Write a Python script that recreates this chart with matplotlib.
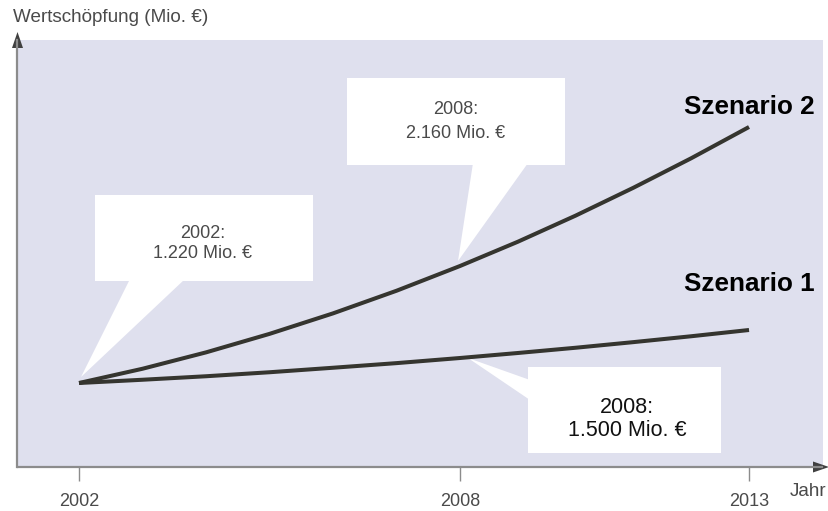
import numpy as np
import matplotlib
matplotlib.use("Agg")
import matplotlib.pyplot as plt
from matplotlib.patches import Polygon
from matplotlib.lines import Line2D

plt.rcParams['font.family'] = ['Liberation Sans', 'DejaVu Sans']

# ---- data (schematic scale in Mio. EUR) ----
years = list(range(2002, 2014))
szenario1 = [1220, 1246, 1274, 1306, 1342, 1379, 1420, 1460, 1502, 1547, 1594, 1644]
szenario2 = [1220, 1334, 1465, 1613, 1777, 1958, 2156, 2350, 2559, 2782, 3018, 3268]
tick_years = [2002, 2008, 2013]
tick_labels = ["2002", "2008", "2013"]
callout_texts = [("2002:", "1.220 Mio. €"), ("2008:", "2.160 Mio. €"), ("2008:", "1.500 Mio. €")]
series_names = ["Szenario 1", "Szenario 2"]

W, H = 829, 511
fig = plt.figure(figsize=(W / 100, H / 100), dpi=100)

def fp(x, y):
    """pixel (top-left origin) -> figure fraction"""
    return (x / W, 1 - y / H)

BG = "#DFE0EE"
LINE = "#35352F"
AX_GRAY = "#8C8C8C"
TXT = "#4A4A4A"

ax = fig.add_axes([18 / W, 1 - 467 / H, (823 - 18) / W, (467 - 40) / H])
ax.set_facecolor(BG)

# piecewise linear x scale (schematic spacing of the original)
def fwd(x):
    x = np.asarray(x, float)
    return np.where(x <= 2008, (x - 2002) * 63.5, 381 + (x - 2008) * 57.8)

def inv(u):
    u = np.asarray(u, float)
    return np.where(u <= 381, 2002 + u / 63.5, 2008 + (u - 381) / 57.8)

ax.set_xscale('function', functions=(fwd, inv))
ax.set_xlim(2001.039, 2014.28)
ax.set_ylim(548, 3964)

ax.plot(years, szenario1, color=LINE, lw=2.9, zorder=5, solid_capstyle='butt',
        solid_joinstyle='round')
ax.plot(years, szenario2, color=LINE, lw=2.9, zorder=5, solid_capstyle='butt',
        solid_joinstyle='round')

for s in ax.spines.values():
    s.set_visible(False)
ax.set_yticks([])
ax.set_xticks(tick_years)
ax.set_xticklabels(tick_labels)
ax.tick_params(axis='x', length=10, width=1, color=AX_GRAY, pad=9,
               labelsize=13, labelcolor=TXT)

# axes lines with arrows
fig.add_artist(Line2D([18 / W, 822 / W], [1 - 467 / H, 1 - 467 / H], color=AX_GRAY, lw=1.6,
                      transform=fig.transFigure))
fig.add_artist(Polygon([fp(813, 461.5), fp(829, 467), fp(813, 472.5)], closed=True,
                       facecolor="#404040", edgecolor="none", transform=fig.transFigure))
fig.add_artist(Line2D([17.5 / W, 17.5 / W], [1 - 467 / H, 1 - 40 / H], color=AX_GRAY, lw=1.6,
                      transform=fig.transFigure))
fig.add_artist(Polygon([fp(12, 48), fp(17.5, 32), fp(23, 48)], closed=True,
                       facecolor="#404040", edgecolor="none", transform=fig.transFigure))

fig.text(13 / W, 1 - 17 / H, "Wertschöpfung (Mio. €)", fontsize=13.6, color=TXT,
         ha='left', va='center')
fig.text(790 / W, 1 - 491 / H, "Jahr", fontsize=13.6, color=TXT, ha='left', va='center')

# tip positions from data
fig.canvas.draw()
to_px = lambda x, y: (ax.transData.transform((x, y))[0], H - ax.transData.transform((x, y))[1])
t1 = to_px(years[0], szenario2[0])
t2 = to_px(2008, szenario2[years.index(2008)])
t3 = to_px(2008, szenario1[years.index(2008)])

def callout(box, base, tip):
    x0, y0, x1, y1 = box
    pts = [fp(x0, y0), fp(x1, y0), fp(x1, y1), fp(x0, y1)]
    ax.add_patch(Polygon(pts, closed=True, facecolor="white", edgecolor="none",
                         transform=fig.transFigure, zorder=2))
    ax.add_patch(Polygon([fp(*base[0]), fp(*tip), fp(*base[1])], closed=True,
                         facecolor="white", edgecolor="none", transform=fig.transFigure, zorder=2))

callout((95, 195, 313, 281), [(130, 279), (185, 279)], (t1[0] + 2, t1[1] - 6))
callout((347, 78, 565, 165), [(473, 163), (528, 163)], (t2[0] - 2, t2[1] - 5))
callout((528, 367, 721, 453), [(530, 380), (530, 400)], (t3[0] + 8, t3[1]))

fig.text(203 / W, 1 - 233 / H, callout_texts[0][0], fontsize=13, color=TXT, ha='center', va='center')
fig.text(203 / W, 1 - 253 / H, callout_texts[0][1], fontsize=13, color=TXT, ha='center', va='center')
fig.text(456 / W, 1 - 110 / H, callout_texts[1][0], fontsize=13, color=TXT, ha='center', va='center')
fig.text(456 / W, 1 - 133 / H, callout_texts[1][1], fontsize=13, color=TXT, ha='center', va='center')
fig.text(627 / W, 1 - 407 / H, callout_texts[2][0], fontsize=15.5, color="#111111", ha='center', va='center')
fig.text(627 / W, 1 - 430 / H, callout_texts[2][1], fontsize=15.5, color="#111111", ha='center', va='center')

fig.text(815 / W, 1 - 107 / H, series_names[1], fontsize=18.8, fontweight='bold', color="black",
         ha='right', va='center')
fig.text(815 / W, 1 - 284 / H, series_names[0], fontsize=18.8, fontweight='bold', color="black",
         ha='right', va='center')

fig.savefig("out.png", dpi=100)
